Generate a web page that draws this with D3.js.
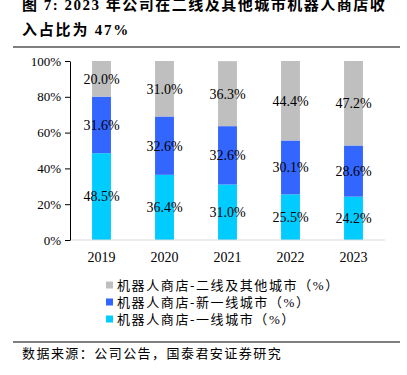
<!DOCTYPE html>
<html>
<head>
<meta charset="utf-8">
<script src="https://cdn.jsdelivr.net/npm/d3@7"></script>
<style>
  body { margin: 0; background: #fff; }
  svg text { font-family: "Liberation Serif", "Times New Roman", serif; }
  .cjk { font-family: "Liberation Serif", "Noto Sans CJK SC", serif; }
</style>
</head>
<body>
<svg width="407" height="375"></svg>
<script>
var years = ["2019", "2020", "2021", "2022", "2023"];
var tier1 = [48.5, 36.4, 31.0, 25.5, 24.2];
var newTier1 = [31.6, 32.6, 32.6, 30.1, 28.6];
var tier2 = [20.0, 31.0, 36.3, 44.4, 47.2];
var yTicks = [0, 20, 40, 60, 80, 100];
var seriesNames = ["机器人商店-二线及其他城市（%）", "机器人商店-新一线城市（%）", "机器人商店-一线城市（%）"];
var colors = ["#BFBFBF", "#3366FF", "#00CCFF"];

var svg = d3.select("svg");

// title (first line is partly cut off in the source)
svg.append("text").attr("class", "cjk")
	.attr("x", 22).attr("y", 10)
	.attr("font-size", 15).attr("font-weight", "bold").attr("letter-spacing", 1.5)
	.text("图 7: 2023 年公司在二线及其他城市机器人商店收");
svg.append("text").attr("class", "cjk")
	.attr("x", 22).attr("y", 35)
	.attr("font-size", 15).attr("font-weight", "bold").attr("letter-spacing", 1.8)
	.text("入占比为 47%");
svg.append("line").attr("x1", 13).attr("x2", 400).attr("y1", 47).attr("y2", 47)
	.attr("stroke", "#000").attr("stroke-width", 1.2);

var plotLeft = 70, plotRight = 385, plotTop = 61, plotBottom = 240;

var xScale = d3.scaleBand().domain(years).range([plotLeft, plotRight]).paddingInner(0.7).paddingOuter(0.35),
	yScale = d3.scaleLinear().domain([0, 100]).range([plotBottom, plotTop]);

// stack: bottom to top = tier1, newTier1, tier2
var rows = years.map(function(y, i) {
	return { year: y, t1: tier1[i], nt1: newTier1[i], t2: tier2[i] };
});
var stack = d3.stack().keys(["t1", "nt1", "t2"])(rows);
var stackColors = [colors[2], colors[1], colors[0]];

var g = svg.append("g");

stack.forEach(function(layer, k) {
	g.selectAll(".bar" + k)
		.data(layer)
		.enter().append("rect")
		.attr("x", d => xScale(d.data.year))
		.attr("y", d => yScale(Math.min(d[1], 100)))
		.attr("width", xScale.bandwidth())
		.attr("height", d => yScale(d[0]) - yScale(Math.min(d[1], 100)))
		.attr("fill", stackColors[k]);
});

stack.forEach(function(layer, k) {
	g.selectAll(".lab" + k)
		.data(layer)
		.enter().append("text")
		.attr("x", d => xScale(d.data.year) + xScale.bandwidth() / 2)
		.attr("y", d => (yScale(d[0]) + yScale(Math.min(d[1], 100))) / 2)
		.attr("dy", "0.35em")
		.attr("text-anchor", "middle")
		.attr("font-size", 14)
		.attr("fill", "#000")
		.text(d => (d[1] - d[0]).toFixed(1) + "%");
});

// x axis
var xAxis = svg.append("g")
	.attr("transform", "translate(0," + plotBottom + ")")
	.call(d3.axisBottom(xScale).tickSize(0).tickPadding(12));
xAxis.select(".domain").attr("stroke", "#D9D9D9").attr("d", "M" + plotLeft + ",0H" + plotRight);
xAxis.selectAll("text").attr("font-size", 14).attr("fill", "#000")
	.style("font-family", "Liberation Serif, serif");

// y axis
var yAxis = svg.append("g")
	.attr("transform", "translate(" + plotLeft + ",0)")
	.call(d3.axisLeft(yScale).tickValues(yTicks).tickSize(5).tickSizeOuter(0).tickPadding(4)
		.tickFormat(d => d + "%"));
yAxis.select(".domain").attr("stroke", "#000");
yAxis.selectAll("line").attr("stroke", "#000");
yAxis.selectAll("text").attr("font-size", 13).attr("fill", "#000")
	.style("font-family", "Liberation Serif, serif");

// legend
var legend = svg.append("g");
seriesNames.forEach(function(name, i) {
	var ly = 285 + i * 17;
	legend.append("rect").attr("x", 106).attr("y", ly - 3.5).attr("width", 7).attr("height", 7)
		.attr("fill", colors[i]);
	legend.append("text").attr("class", "cjk")
		.attr("x", 117).attr("y", ly).attr("dy", "0.35em")
		.attr("font-size", 13).attr("letter-spacing", 1.6).attr("fill", "#000")
		.text(name);
});

// source
svg.append("line").attr("x1", 13).attr("x2", 400).attr("y1", 342).attr("y2", 342)
	.attr("stroke", "#000").attr("stroke-width", 1.2);
svg.append("text").attr("class", "cjk")
	.attr("x", 22).attr("y", 358)
	.attr("font-size", 13).attr("letter-spacing", 1.45).attr("fill", "#000")
	.text("数据来源：公司公告，国泰君安证券研究");
</script>
</body>
</html>
